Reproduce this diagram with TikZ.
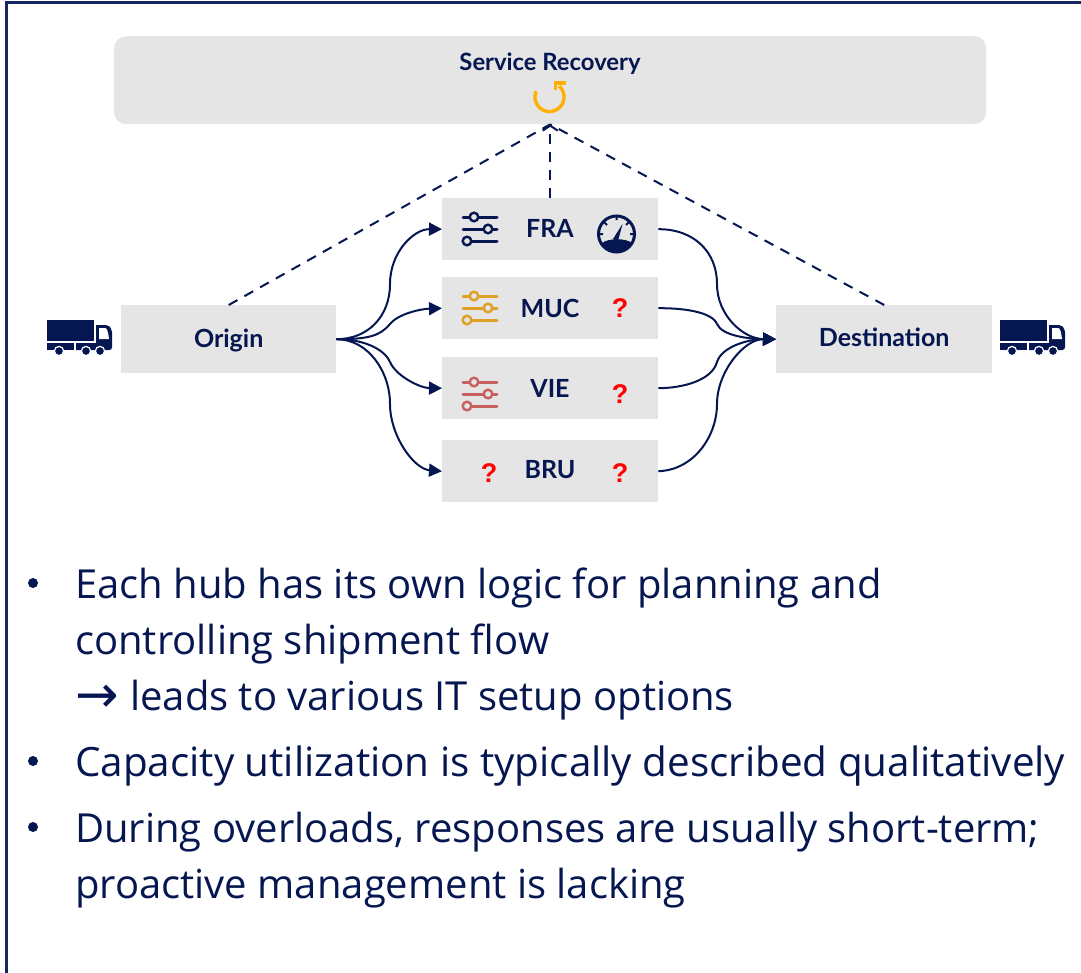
\documentclass[tikz,border=0pt]{standalone}
\usepackage{fontspec}
\setmainfont{Lato}
\newfontfamily\bodyfont{Open Sans}
\newfontfamily\qfont{Liberation Sans}
\newfontfamily\symfont{DejaVu Sans}
\usetikzlibrary{arrows.meta}
\definecolor{navy}{HTML}{051650}
\definecolor{boxgray}{HTML}{E5E5E5}
\definecolor{framec}{HTML}{14255F}
\definecolor{amberc}{HTML}{E09F25}
\definecolor{rosec}{HTML}{C8605F}
\definecolor{refresh}{HTML}{FFB000}
\tikzset{
  graybox/.style={fill=boxgray,draw=none,inner sep=0pt,anchor=north west,font=\fontsize{25}{30}\selectfont\bfseries,text=navy},
  boxlabel/.style={inner sep=0pt,anchor=base,text=navy,font=\fontsize{25}{30}\selectfont\bfseries},
  flow/.style={draw=navy,line width=2pt,-{Triangle[length=13pt,width=13pt]}},
  dashlink/.style={draw=navy,line width=2pt,dash pattern=on 10pt off 8pt},
  dashtip/.style={dashlink,-{Straight Barb[length=5pt,width=15pt,line width=2pt]}},
  bodytext/.style={anchor=base west,inner sep=0pt,text=navy,font=\bodyfont\fontsize{40}{50}\selectfont},
  bodywide/.style={bodytext,font=\bodyfont\fontsize{40.4}{50}\selectfont},
  bulletmark/.style={anchor=center,inner sep=0pt,fill=navy,circle,minimum size=10pt},
  qmark/.style={inner sep=0pt,text=red,font=\qfont\fontsize{27}{30}\selectfont\bfseries},
  sliders/.pic={
    \draw[line width=3pt,line cap=round,draw=#1] (-17,-12)--(17,-12) (-17,0)--(17,0) (-17,12)--(17,12);
    \draw[line width=2.4pt,draw=#1,fill=boxgray] (-6,-12) circle[radius=4.3pt] (8,0) circle[radius=4.3pt] (-13,12) circle[radius=4.3pt];
  },
  truck/.pic={
    \fill[navy] (0,0) rectangle (47,21);
    \fill[navy] (49,5) -- (59,5) .. controls (62,5) and (64,7) .. (65,12) -- (65,27) .. controls (65,29) and (64,30) .. (62,30) -- (29,30) -- (29,23) -- (49,23) -- cycle;
    \fill[navy] (0,23) rectangle (27,30);
    \fill[white] (52,8) -- (58,8) .. controls (60,8) and (61,11) .. (62,19) -- (52,19) -- cycle;
    \fill[navy,draw=white,line width=1.2pt] (12,31) circle[radius=4.6pt] (39,31) circle[radius=4.6pt] (53,31) circle[radius=4.6pt];
  },
}
\begin{document}
\begin{tikzpicture}[x=1pt,y=-1pt]
\useasboundingbox (0,0) rectangle (1081,972);
\draw[draw=framec,line width=3pt] (6.2,974) -- (6.2,2.2) -- (1083,2.2);

% service recovery
\node[graybox,rounded corners=12pt,minimum width=872pt,minimum height=88pt] (sr) at (114,36) {};
\node[inner sep=0pt,anchor=base,text=navy,font=\fontsize{23.8}{26}\selectfont\bfseries] (srt) at (550,70.5) {Service Recovery};
\draw[refresh,line width=3.4pt] plot[domain=203:-48,samples=50] ({549.5+14.5*cos(\x)},{97+14.5*sin(\x)});
\draw[refresh,line width=3.4pt] (555.5,90) -- (555.5,83) -- (565.5,83);

% boxes
\node[graybox,minimum width=215pt,minimum height=68pt,text height=16pt,text depth=0pt] (origin) at (121,305) {Origin};
\node[graybox,minimum width=216pt,minimum height=68pt,text height=14pt,text depth=0pt] (dest) at (776,305) {Destination};
\node[graybox,minimum width=216pt,minimum height=62pt] (fra) at (442,198) {};
\node[graybox,minimum width=216pt,minimum height=62pt] (muc) at (442,277) {};
\node[graybox,minimum width=216pt,minimum height=62pt] (vie) at (442,357) {};
\node[graybox,minimum width=216pt,minimum height=62pt] (bru) at (442,440) {};
\node[boxlabel] (frat) at (550,237) {FRA};
\node[boxlabel] (muct) at (550,317) {MUC};
\node[boxlabel] (viet) at (550,397) {VIE};
\node[boxlabel] (brut) at (550,478) {BRU};

% icons
\pic at (480,229) {sliders=navy};
\pic at (480,308) {sliders=amberc};
\pic at (480,394) {sliders=rosec};
\pic at (47,320) {truck};
\pic at (1000,320) {truck};
% gauge
\draw[navy,line width=3pt] (616.5,234) circle[radius=18pt];
\fill[navy] (602,243) .. controls (608,238) and (626,238) .. (632,243) .. controls (627,256) and (607,256) .. (602,243) -- cycle;
\fill[navy] (613,239) -- (618,241) -- (622.5,224) -- cycle;
\draw[navy,line width=2pt] (616.5,216) -- (616.5,220) (604,222) -- (607,225) (629,222) -- (626,225) (599,234) -- (603,234) (634,234) -- (630,234);

% question marks
\node[qmark] (q1) at (620,308) {?};
\node[qmark] (q2) at (620,394) {?};
\node[qmark] (q3) at (489,473) {?};
\node[qmark] (q4) at (620,473) {?};

% flows from origin
\draw[flow] (origin.east) .. controls +(32,0) and (390,316) .. (390,284) .. controls (390,252) and (414,229) .. (fra.west);
\draw[flow] (origin.east) .. controls +(32,0) and (380,336) .. (390,324) .. controls (398,314) and (420,309) .. (muc.west);
\draw[flow] (origin.east) .. controls +(32,0) and (386,352) .. (390,362) .. controls (396,376) and (420,388) .. (vie.west);
\draw[flow] (origin.east) .. controls +(32,0) and (390,372) .. (390,404) .. controls (390,436) and (414,469) .. (bru.west);
% flows into destination
\draw[flow] (fra.east) .. controls (694,229) and (717,252) .. (717,284) .. controls (717,316) and (744,339) .. (dest.west);
\draw[flow] (muc.east) .. controls (684,308) and (712,312) .. (717,324) .. controls (722,336) and (750,339) .. (dest.west);
\draw[flow] (vie.east) .. controls (684,388) and (712,380) .. (717,362) .. controls (722,346) and (750,339) .. (dest.west);
\draw[flow] (bru.east) .. controls (694,470) and (717,436) .. (717,404) .. controls (717,372) and (744,339) .. (dest.west);

% dashed links
\draw[dashlink] (origin.north) -- (sr.south);
\draw[dashtip] (fra.north) -- (sr.south);
\draw[dashlink] (dest.north) -- (sr.south);

% bullets
\node[bulletmark] (b1) at (33,583) {};
\node[bulletmark] (b2) at (33,761) {};
\node[bulletmark] (b3) at (33,827) {};
\node[bodytext] (l1) at (75,598) {Each hub has its own logic for planning and};
\node[bodytext] (l2) at (75,654) {controlling shipment flow};
\node[bodytext] (l3) at (75,710) {\makebox[55pt][l]{\raisebox{-2pt}{\symfont\fontsize{52}{52}\selectfont→}}leads to various IT setup options};
\node[bodywide] (l4) at (75,776) {Capacity utilization is typically described qualitatively};
\node[bodytext] (l5) at (75,842) {During overloads, responses are usually short-term;};
\node[bodytext] (l6) at (75,898) {proactive management is lacking};
\end{tikzpicture}
\end{document}
